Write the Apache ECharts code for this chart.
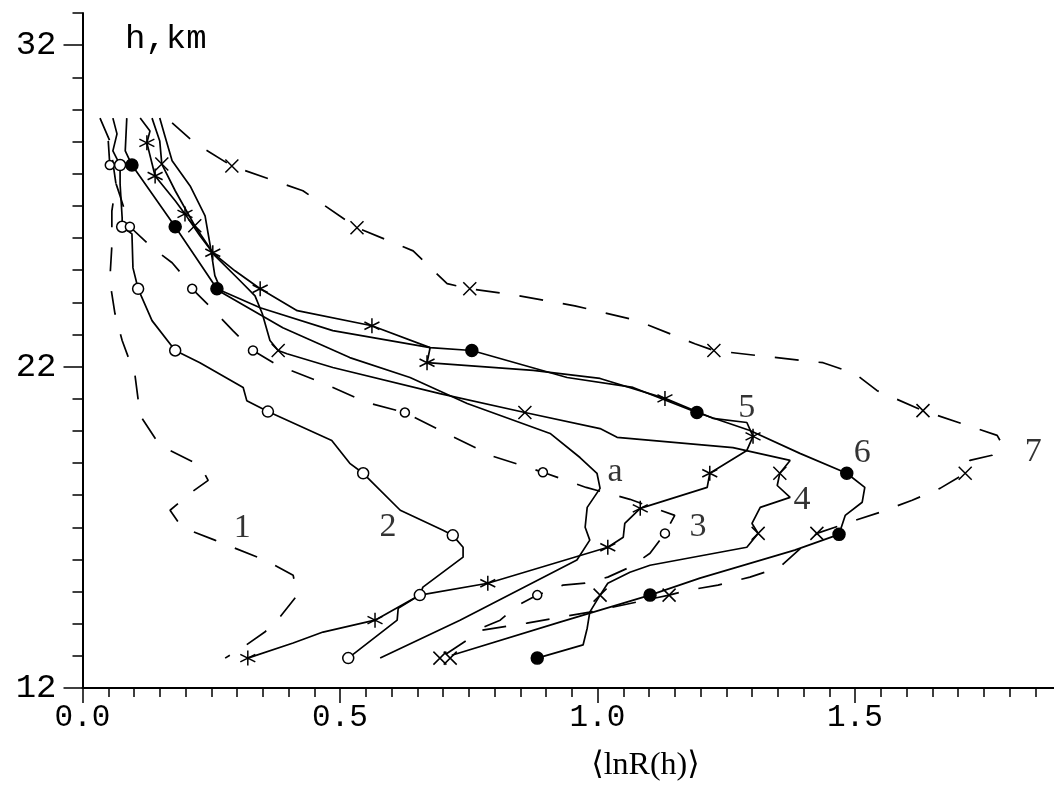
<!DOCTYPE html>
<html>
<head>
<meta charset="utf-8">
<script src="https://cdn.jsdelivr.net/npm/echarts@6.0.0/dist/echarts.min.js"></script>
<style>
  html, body { margin: 0; padding: 0; background: #fff; }
  #main { width: 1054px; height: 786px; }
</style>
</head>
<body>
<div id="main"></div>
<script>
// profiles <lnR(h)> vs height h (km)
const curve1 = [[0.034,29.73],[0.053,29.02],[0.065,27.68],[0.057,26.84],[0.057,25.76],[0.053,24.67],[0.063,23.65],[0.077,22.81],[0.102,21.72],[0.112,20.48],[0.150,19.55],[0.228,18.93],[0.244,18.46],[0.209,18.06],[0.170,17.53],[0.193,17.00],[0.257,16.60],[0.354,15.98],[0.409,15.51],[0.417,14.89],[0.383,14.20],[0.354,13.74],[0.312,13.27],[0.277,12.93]];
const curve2 = [[0.059,29.73],[0.067,29.24],[0.059,28.71],[0.073,28.27],[0.073,27.68],[0.077,26.63],[0.077,26.35],[0.096,26.13],[0.098,25.07],[0.108,24.42],[0.135,23.43],[0.180,22.50],[0.228,22.12],[0.312,21.35],[0.319,20.94],[0.360,20.60],[0.484,19.70],[0.519,18.99],[0.545,18.68],[0.617,17.53],[0.700,16.91],[0.719,16.75],[0.739,16.38],[0.739,16.07],[0.661,15.14],[0.655,14.89],[0.613,14.48],[0.611,14.11],[0.516,12.93]];
const curve3 = [[0.050,29.02],[0.053,28.27],[0.073,27.31],[0.092,26.35],[0.135,25.70],[0.174,25.23],[0.199,24.76],[0.213,24.42],[0.246,23.89],[0.292,23.12],[0.331,22.50],[0.380,22.03],[0.465,21.50],[0.552,20.88],[0.626,20.57],[0.714,19.86],[0.797,19.21],[0.894,18.71],[0.978,18.24],[1.063,17.87],[1.150,17.37],[1.131,16.81],[1.102,16.19],[1.063,15.76],[1.020,15.45],[0.976,15.26],[0.933,15.20],[0.883,14.89],[0.846,14.58],[0.811,14.11],[0.752,13.71]];
const curve4 = [[0.135,29.73],[0.150,29.02],[0.154,28.30],[0.180,27.47],[0.218,26.38],[0.257,25.45],[0.306,24.67],[0.335,24.20],[0.349,23.65],[0.364,22.81],[0.380,22.50],[0.397,22.40],[0.486,21.97],[0.694,21.16],[0.859,20.57],[1.005,20.07],[1.038,19.80],[1.263,19.48],[1.374,19.08],[1.354,18.68],[1.349,18.30],[1.374,17.93],[1.316,17.62],[1.300,17.12],[1.312,16.81],[1.290,16.38],[1.102,15.82],[1.063,15.60],[1.020,15.26],[1.005,14.89],[0.985,14.36],[0.980,13.86],[0.972,13.34],[0.883,12.93]];
const curve5 = [[0.112,29.73],[0.131,29.33],[0.125,28.96],[0.141,27.93],[0.180,27.16],[0.199,26.75],[0.228,26.07],[0.253,25.54],[0.296,24.98],[0.345,24.42],[0.417,23.74],[0.562,23.27],[0.675,22.59],[0.669,22.12],[0.875,21.88],[1.005,21.63],[1.131,21.01],[1.224,20.39],[1.290,20.26],[1.302,19.83],[1.290,19.39],[1.218,18.68],[1.213,18.24],[1.083,17.59],[1.053,17.12],[1.050,16.69],[1.020,16.38],[0.787,15.26],[0.655,14.89],[0.568,14.11],[0.467,13.74],[0.409,13.40],[0.321,12.93]];
const curve6 = [[0.086,29.73],[0.083,28.71],[0.096,28.27],[0.131,27.47],[0.180,26.35],[0.218,25.45],[0.261,24.42],[0.345,23.83],[0.486,23.12],[0.675,22.59],[0.756,22.50],[0.941,21.66],[1.069,21.35],[1.193,20.57],[1.296,20.01],[1.393,19.30],[1.484,18.68],[1.519,18.24],[1.514,17.78],[1.481,17.37],[1.469,16.78],[1.383,16.29],[1.199,15.42],[1.102,14.89],[0.927,14.05],[0.717,13.02]];
const curve7 = [[0.174,29.58],[0.218,28.96],[0.290,28.24],[0.428,27.47],[0.533,26.32],[0.642,25.60],[0.708,24.58],[0.752,24.42],[0.834,24.24],[0.956,23.89],[1.077,23.43],[1.189,22.71],[1.226,22.50],[1.312,22.34],[1.438,22.12],[1.500,21.78],[1.543,21.25],[1.632,20.63],[1.776,19.86],[1.787,19.55],[1.766,19.24],[1.723,19.08],[1.714,18.68],[1.665,18.21],[1.611,17.84],[1.549,17.47],[1.490,17.16],[1.426,16.81],[1.354,15.76],[1.296,15.45],[1.234,15.20],[1.176,15.04],[1.139,14.89],[0.985,14.36],[0.927,14.20],[0.863,14.02],[0.776,13.80],[0.694,12.93]];
const curveA = [[0.150,29.73],[0.160,29.17],[0.174,28.40],[0.209,27.62],[0.238,26.69],[0.248,25.76],[0.257,24.83],[0.271,24.30],[0.389,23.21],[0.519,22.28],[0.636,21.66],[0.747,20.85],[0.908,19.92],[0.966,19.17],[0.999,18.68],[1.005,18.21],[0.980,17.62],[0.976,17.00],[0.985,16.60],[0.960,15.98],[0.733,14.11],[0.578,12.93]];

// markers on the profiles
const marks2 = [[0.073,28.27],[0.077,26.35],[0.108,24.42],[0.180,22.50],[0.360,20.60],[0.545,18.68],[0.719,16.75],[0.655,14.89],[0.516,12.93]];
const marks3 = [[0.053,28.27],[0.092,26.35],[0.213,24.42],[0.331,22.50],[0.626,20.57],[0.894,18.71],[1.131,16.81],[0.883,14.89]];
const marks4 = [[0.154,28.30],[0.218,26.38],[0.380,22.50],[0.859,20.57],[1.354,18.68],[1.312,16.81],[1.005,14.89],[0.714,12.93]];
const marks5 = [[0.125,28.96],[0.141,27.93],[0.199,26.75],[0.253,25.54],[0.345,24.42],[0.562,23.27],[0.669,22.12],[1.131,21.01],[1.302,19.83],[1.218,18.68],[1.083,17.59],[1.020,16.38],[0.787,15.26],[0.568,14.11],[0.321,12.93]];
const marks6 = [[0.096,28.27],[0.180,26.35],[0.261,24.42],[0.756,22.50],[1.193,20.57],[1.484,18.68],[1.469,16.78],[1.102,14.89],[0.883,12.93]];
const marks7 = [[0.290,28.24],[0.533,26.32],[0.752,24.42],[1.226,22.50],[1.632,20.63],[1.714,18.68],[1.426,16.81],[1.139,14.89],[0.694,12.93]];

// curve number labels
const curveNames = ['1', '2', '3', '4', '5', '6', '7', 'a'];
const namePos = [[0.310,16.97],[0.593,17.00],[1.195,17.00],[1.397,17.84],[1.290,20.70],[1.514,19.30],[1.846,19.33],[1.034,18.71]];

const yLabels = [12, 22, 32];
const yMinor = [12,13,14,15,16,17,18,19,20,21,22,23,24,25,26,27,28,29,30,31,32,33];

const X_SYM = 'path://M0,0L10,10M10,0L0,10';
const STAR_SYM = 'path://M5,0L5,10M0.7,2.5L9.3,7.5M0.7,7.5L9.3,2.5';

let chart = echarts.init(document.getElementById('main'));

function lineSeries(data, dashed) {
	return {
		type: 'line',
		data: data,
		symbol: 'none',
		silent: true,
		lineStyle: { color: '#000', width: 1.7, type: dashed ? [24, 20] : 'solid' },
		z: 2
	};
}

function markSeries(data, symbol, size, fill) {
	return {
		type: 'scatter',
		data: data,
		symbol: symbol,
		symbolSize: size,
		silent: true,
		itemStyle: { color: fill, borderColor: '#000', borderWidth: 1.5, opacity: 1 },
		z: 3
	};
}

const option = {
	animation: false,
	backgroundColor: '#fff',
	title: {
		text: 'h,km',
		left: 120,
		top: 17,
		textStyle: { fontFamily: 'Liberation Mono', fontSize: 34, fontWeight: 'normal', color: '#000' }
	},
	grid: { left: 82.5, top: 13, bottom: 98, right: -58.5, containLabel: false, outerBoundsMode: 'none' },
	xAxis: {
		type: 'value',
		min: 0,
		max: 2,
		interval: 0.5,
		name: '\u27E8lnR(h)\u27E9',
		nameLocation: 'middle',
		nameGap: 62,
		nameTextStyle: { fontFamily: 'Liberation Serif, DejaVu Serif', fontSize: 32, color: '#000', padding: [0, 0, 0, 96] },
		axisLine: { lineStyle: { color: '#000', width: 2 } },
		axisTick: { length: 15, lineStyle: { color: '#000', width: 1.5 } },
		minorTick: { show: true, splitNumber: 10, length: 9, lineStyle: { color: '#000', width: 1.5 } },
		axisLabel: {
			margin: 14,
			fontFamily: 'Liberation Mono',
			fontSize: 31,
			color: '#000',
			formatter: function (v) { return v.toFixed(1); }
		},
		splitLine: { show: false }
	},
	yAxis: [
		{
			type: 'value',
			min: 12,
			max: 33,
			interval: 10,
			position: 'left',
			axisLine: { show: true, lineStyle: { color: '#000', width: 2 } },
			axisTick: { length: 19, customValues: yLabels, lineStyle: { color: '#000', width: 1.5 } },
			axisLabel: { margin: 26, customValues: yLabels, fontFamily: 'Liberation Mono', fontSize: 34, color: '#000' },
			splitLine: { show: false }
		},
		{
			type: 'value',
			min: 12,
			max: 33,
			interval: 1,
			position: 'left',
			axisLine: { show: false },
			axisTick: { show: true, length: 10, customValues: yMinor, lineStyle: { color: '#000', width: 1.5 } },
			axisLabel: { show: false },
			splitLine: { show: false }
		}
	],
	series: [
		lineSeries(curve1, true),
		lineSeries(curve2, false),
		lineSeries(curve3, true),
		lineSeries(curve4, false),
		lineSeries(curve5, false),
		lineSeries(curve6, false),
		lineSeries(curve7, true),
		lineSeries(curveA, false),
		markSeries(marks2, 'circle', 11, '#fff'),
		markSeries(marks3, 'circle', 9, '#fff'),
		markSeries(marks4, X_SYM, 13, 'transparent'),
		markSeries(marks5, STAR_SYM, 15, 'transparent'),
		markSeries(marks6, 'circle', 12, '#000'),
		markSeries(marks7, X_SYM, 13, 'transparent'),
		{
			type: 'scatter',
			data: curveNames.map(function (n, i) { return { name: n, value: namePos[i] }; }),
			symbolSize: 0,
			silent: true,
			label: {
				show: true,
				position: 'inside',
				formatter: '{b}',
				fontFamily: 'Liberation Serif',
				fontSize: 34,
				color: '#000'
			},
			z: 4
		}
	]
};

chart.setOption(option);
</script>
</body>
</html>
